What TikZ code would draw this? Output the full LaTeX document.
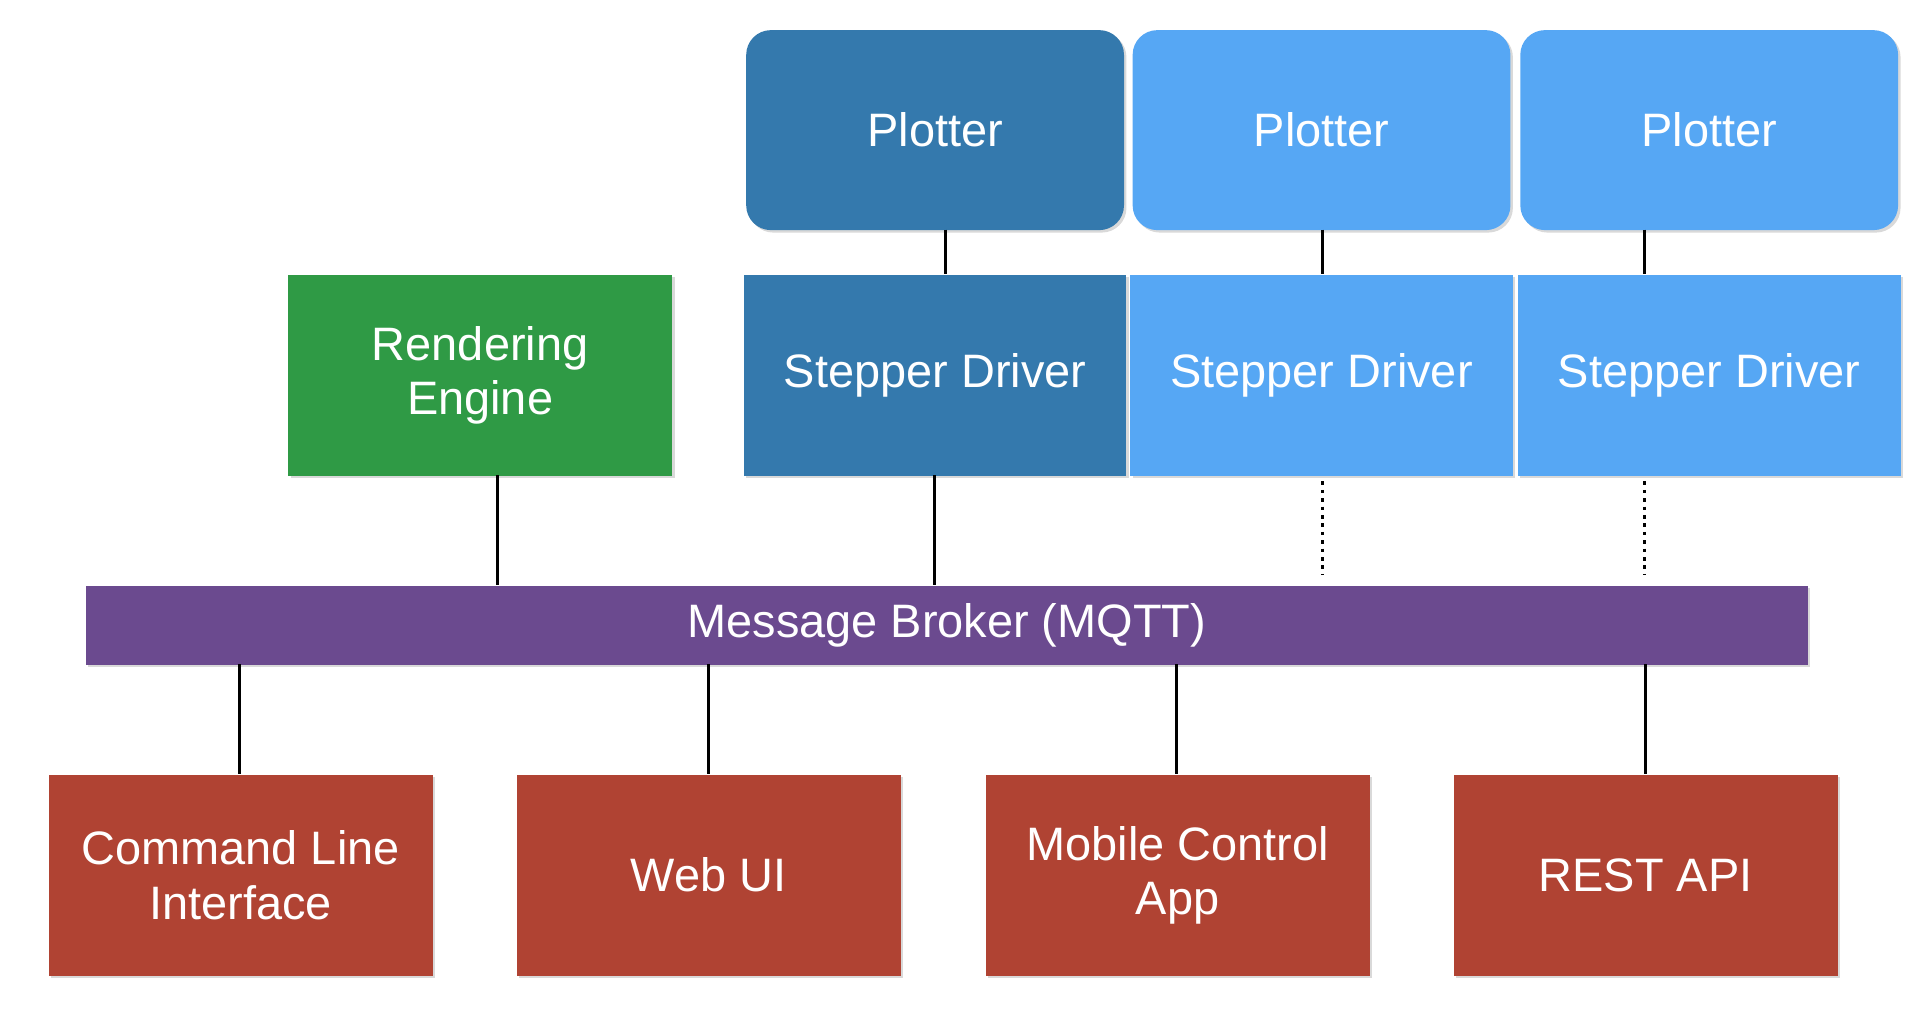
\documentclass[tikz,border=0pt]{standalone}
\usepackage{fontspec}
\setmainfont{Liberation Sans}
\usetikzlibrary{shadows}
\definecolor{dblue}{HTML}{3479AD}
\definecolor{lblue}{HTML}{56A7F4}
\definecolor{grn}{HTML}{2F9A45}
\definecolor{purp}{HTML}{6B4A8F}
\definecolor{redb}{HTML}{B04333}
\begin{document}
\begin{tikzpicture}[x=0.5pt,y=-0.5pt,
  box/.style={draw=none,text=white,font=\fontsize{19}{22}\selectfont,align=center,inner sep=0pt,anchor=north west,drop shadow={shadow xshift=1pt,shadow yshift=-1pt,opacity=0.3}},
  conn/.style={line width=1.2pt,black},
  dots/.style={line width=1.4pt,dotted,black}]
\useasboundingbox (0,0) rectangle (1560,823);
\node[box,fill=dblue,rounded corners=10pt,minimum width=153pt,minimum height=81pt] (p1) at (604,24) {Plotter};
\node[box,fill=lblue,rounded corners=10pt,minimum width=153pt,minimum height=81pt] (p2) at (917,24) {Plotter};
\node[box,fill=lblue,rounded corners=10pt,minimum width=153pt,minimum height=81pt] (p3) at (1231,24) {Plotter};
\node[box,fill=dblue,minimum width=155pt,minimum height=81.5pt] (s1) at (602,222) {Stepper Driver};
\node[box,fill=lblue,minimum width=155pt,minimum height=81.5pt] (s2) at (915,222) {Stepper Driver};
\node[box,fill=lblue,minimum width=155pt,minimum height=81.5pt] (s3) at (1229,222) {Stepper Driver};
\node[box,fill=grn,minimum width=155.5pt,minimum height=81.5pt] (re) at (233,222) {Rendering\\Engine};
\node[box,fill=purp,minimum width=697.5pt,minimum height=32pt] (mb) at (69,474) {Message Broker (MQTT)};
\node[box,fill=redb,minimum width=155.5pt,minimum height=81.5pt] (b1) at (39,627) {Command Line\\Interface};
\node[box,fill=redb,minimum width=155.5pt,minimum height=81.5pt] (b2) at (418,627) {Web UI};
\node[box,fill=redb,minimum width=155.5pt,minimum height=81.5pt] (b3) at (798,627) {Mobile Control\\App};
\node[box,fill=redb,minimum width=155.5pt,minimum height=81.5pt] (b4) at (1177,627) {REST API};
\draw[conn] (766,186) -- (766,222);
\draw[conn] (1071,186) -- (1071,222);
\draw[conn] (1332,186) -- (1332,222);
\draw[conn] (403,385) -- (403,474);
\draw[conn] (757,385) -- (757,474);
\draw[dots] (1071,390) -- (1071,466);
\draw[dots] (1332,390) -- (1332,466);
\draw[conn] (194,538) -- (194,627);
\draw[conn] (574,538) -- (574,627);
\draw[conn] (953,538) -- (953,627);
\draw[conn] (1333,538) -- (1333,627);
\end{tikzpicture}
\end{document}
